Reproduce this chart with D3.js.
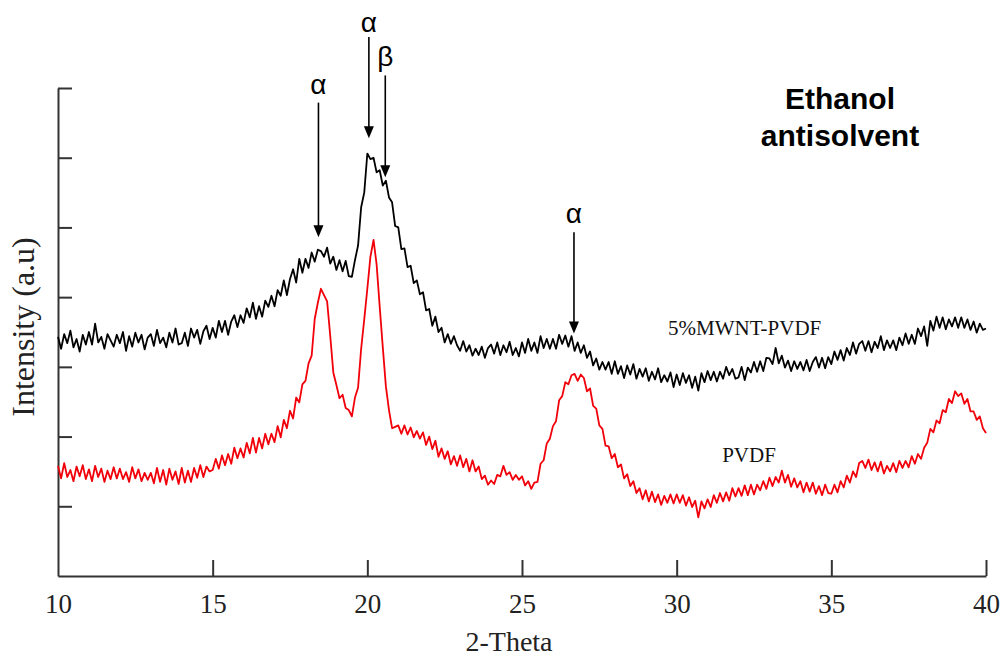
<!DOCTYPE html>
<html>
<head>
<meta charset="utf-8">
<script src="https://cdn.jsdelivr.net/npm/d3@7"></script>
<style>
	body { margin: 0; background: #fff; }
	svg { display: block; }
</style>
</head>
<body>
<div id="xrd_plot"></div>
<script>
// sampling of the scan: 10 to 40 degrees, one point every 0.1 degree
const theta_start = 10;
const theta_step = 0.1;

// 5%MWNT-PVDF scan (a.u.)
const mwnt_pvdf = [
	343, 326, 347, 334, 352, 328, 340, 322, 346, 332,
	350, 332, 362, 335, 343, 326, 347, 338, 329, 346,
	334, 350, 323, 344, 329, 349, 335, 346, 325, 342,
	347, 330, 353, 334, 342, 328, 349, 335, 355, 332,
	334, 349, 330, 355, 342, 353, 333, 351, 359, 340,
	356, 342, 366, 350, 366, 346, 365, 374, 357, 374,
	363, 384, 371, 392, 369, 387, 372, 395, 386, 402,
	387, 410, 402, 424, 403, 426, 440, 421, 455, 435,
	455, 442, 464, 451, 468, 466, 458, 471, 448, 458,
	439, 453, 437, 452, 430, 429, 453, 474, 529, 550,
	606, 598, 600, 579, 582, 560, 567, 543, 536, 502,
	500, 469, 470, 443, 445, 420, 424, 404, 407, 381,
	383, 359, 372, 350, 356, 335, 347, 333, 344, 331,
	323, 337, 322, 331, 316, 326, 317, 329, 313, 327,
	332, 319, 335, 317, 331, 321, 336, 317, 327, 315,
	335, 320, 340, 323, 335, 320, 344, 327, 340, 326,
	340, 326, 346, 333, 345, 329, 344, 323, 335, 320,
	331, 313, 322, 302, 312, 296, 307, 296, 307, 290,
	308, 290, 301, 284, 302, 289, 304, 283, 297, 286,
	298, 280, 293, 282, 298, 278, 288, 279, 292, 271,
	289, 274, 291, 277, 288, 270, 286, 266, 291, 278,
	294, 281, 293, 279, 293, 283, 300, 288, 297, 283,
	285, 300, 281, 299, 292, 307, 293, 308, 294, 313,
	312, 304, 327, 305, 316, 299, 309, 294, 308, 297,
	307, 295, 310, 294, 307, 314, 299, 313, 298, 314,
	304, 322, 310, 324, 309, 327, 317, 335, 319, 333,
	337, 323, 337, 321, 336, 327, 344, 324, 338, 327,
	338, 324, 342, 331, 348, 333, 346, 333, 355, 344,
	358, 330, 366, 352, 372, 356, 371, 354, 368, 358,
	371, 356, 371, 356, 368, 353, 365, 349, 362, 353,
	355,
];

// PVDF scan (a.u.)
const pvdf = [
	158, 140, 162, 142, 152, 136, 157, 143, 159, 139,
	153, 136, 158, 142, 154, 135, 151, 139, 156, 140,
	154, 139, 149, 135, 156, 140, 153, 136, 148, 138,
	148, 133, 155, 135, 152, 131, 154, 138, 150, 132,
	155, 134, 151, 135, 155, 141, 159, 142, 157, 150,
	152, 168, 154, 173, 159, 175, 161, 184, 169, 183,
	170, 191, 176, 198, 177, 198, 183, 204, 189, 204,
	192, 215, 199, 224, 212, 237, 226, 256, 249, 275,
	280, 305, 316, 369, 392, 412, 403, 394, 345, 292,
	274, 255, 260, 241, 238, 229, 256, 270, 326, 368,
	412, 458, 482, 447, 386, 328, 272, 238, 212, 214,
	216, 204, 216, 203, 213, 199, 208, 197, 206, 188,
	200, 182, 194, 171, 183, 168, 179, 160, 172, 158,
	173, 156, 168, 150, 166, 150, 157, 139, 144, 131,
	137, 132, 145, 143, 158, 145, 149, 138, 145, 138,
	143, 130, 136, 125, 134, 135, 161, 166, 190, 197,
	215, 222, 252, 258, 278, 275, 288, 290, 280, 289,
	284, 265, 269, 244, 240, 216, 211, 187, 186, 169,
	175, 156, 160, 140, 146, 129, 136, 119, 126, 110,
	123, 107, 121, 106, 117, 102, 115, 105, 117, 104,
	117, 105, 116, 101, 113, 99, 108, 84, 107, 97,
	110, 99, 116, 105, 119, 107, 120, 108, 126, 114,
	126, 115, 130, 116, 131, 117, 131, 123, 136, 125,
	141, 129, 142, 134, 151, 134, 145, 128, 140, 127,
	136, 120, 134, 121, 134, 118, 129, 116, 131, 119,
	118, 131, 120, 136, 127, 144, 134, 150, 142, 162,
	165, 155, 167, 152, 163, 150, 164, 147, 158, 150,
	162, 149, 165, 155, 165, 156, 172, 161, 175, 168,
	184, 191, 211, 206, 223, 219, 238, 235, 254, 248,
	265, 258, 262, 247, 254, 236, 236, 224, 229, 212,
	205,
];

const x_ticks = [10, 15, 20, 25, 30, 35, 40];
const y_ticks = [100, 200, 300, 400, 500, 600, 700];

// series labels: [text, 2-theta, intensity]
const series_labels = [
	["5%MWNT-PVDF", 29.72, 346],
	["PVDF", 31.47, 163],
];

// peak markers: [symbol, 2-theta, label baseline, arrow tail, arrow tip]
const peak_markers = [
	["α", 18.42, 692, 679, 486],
	["α", 20.05, 780, 773, 628],
	["β", 20.58, 731, 718, 572],
	["α", 26.68, 506, 493, 348],
];

const title_lines = ["Ethanol", "antisolvent"];

const svg_dimensions = { width: 1001, height: 655 };
const margin = { top: 88, right: 15, bottom: 79, left: 58 };
const width = svg_dimensions.width - margin.left - margin.right;
const height = svg_dimensions.height - margin.top - margin.bottom;
const axis_color = "#333333";
const serif = "'Liberation Serif', 'Times New Roman', serif";
const sans = "'Liberation Sans', Arial, sans-serif";

const svg = d3.select("#xrd_plot")
	.append("svg")
		.attr("width", svg_dimensions.width)
		.attr("height", svg_dimensions.height)
		.style("background", "#ffffff");
const plot = svg.append("g")
	.attr("transform", "translate(" + margin.left + "," + margin.top + ")");

const x = d3.scaleLinear().domain([10, 40]).range([0, width]);
const y = d3.scaleLinear().domain([0, 700]).range([height, 0]);

// axes
const x_axis = plot.append("g")
	.attr("transform", "translate(0," + height + ")")
	.call(d3.axisBottom(x).tickValues(x_ticks).tickSizeInner(-16).tickSizeOuter(0).tickPadding(18));
const y_axis = plot.append("g")
	.call(d3.axisLeft(y).tickValues(y_ticks).tickSizeInner(-14).tickSizeOuter(0).tickFormat(() => ""));
for (const axis of [x_axis, y_axis]) {
	axis.selectAll("path, line")
		.attr("stroke", axis_color)
		.attr("stroke-width", 2);
}
x_axis.selectAll("text")
	.attr("fill", "#222")
	.style("font-family", serif)
	.style("font-size", "27px");
x_axis.selectAll(".tick").filter(d => d === 10).select("line").remove();

plot.append("text")
	.attr("x", x(25) - 13)
	.attr("y", svg_dimensions.height - margin.top - 4)
	.attr("text-anchor", "middle")
	.attr("fill", "#222")
	.style("font-family", serif)
	.style("font-size", "28px")
	.text("2-Theta");
plot.append("text")
	.attr("transform", "rotate(-90)")
	.attr("x", -(327 - margin.top))
	.attr("y", 34 - margin.left)
	.attr("text-anchor", "middle")
	.attr("fill", "#222")
	.style("font-family", serif)
	.style("font-size", "32px")
	.text("Intensity (a.u)");

// scans
const line = d3.line()
	.x((d, i) => x(theta_start + i * theta_step))
	.y(d => y(d));
plot.append("path")
	.datum(pvdf)
	.attr("fill", "none")
	.attr("stroke", "#f2000a")
	.attr("stroke-width", 1.8)
	.attr("stroke-linejoin", "round")
	.attr("d", line);
plot.append("path")
	.datum(mwnt_pvdf)
	.attr("fill", "none")
	.attr("stroke", "#000000")
	.attr("stroke-width", 1.8)
	.attr("stroke-linejoin", "round")
	.attr("d", line);

plot.append("g")
	.selectAll("text")
	.data(series_labels)
	.join("text")
		.attr("x", d => x(d[1]))
		.attr("y", d => y(d[2]))
		.attr("fill", "#111")
		.style("font-family", serif)
		.style("font-size", "21px")
		.text(d => d[0]);

// peak arrows
const markers = plot.append("g")
	.selectAll("g")
	.data(peak_markers)
	.join("g");
markers.append("text")
	.attr("x", d => x(d[1]))
	.attr("y", d => y(d[2]))
	.attr("text-anchor", "middle")
	.attr("fill", "#000")
	.style("font-family", sans)
	.style("font-size", "28px")
	.text(d => d[0]);
markers.append("line")
	.attr("x1", d => x(d[1]))
	.attr("x2", d => x(d[1]))
	.attr("y1", d => y(d[3]))
	.attr("y2", d => y(d[4]) - 10)
	.attr("stroke", "#000")
	.attr("stroke-width", 1.6);
markers.append("path")
	.attr("d", d => {
		const tx = x(d[1]);
		const ty = y(d[4]);
		return "M" + tx + "," + ty + "L" + (tx - 5) + "," + (ty - 12) + "L" + (tx + 5) + "," + (ty - 12) + "Z";
	})
	.attr("fill", "#000");

// title
svg.append("g")
	.selectAll("text")
	.data(title_lines)
	.join("text")
		.attr("x", 840)
		.attr("y", (d, i) => 109 + i * 37)
		.attr("text-anchor", "middle")
		.attr("fill", "#000")
		.style("font-family", sans)
		.style("font-weight", "bold")
		.style("font-size", "30px")
		.text(d => d);
</script>
</body>
</html>
